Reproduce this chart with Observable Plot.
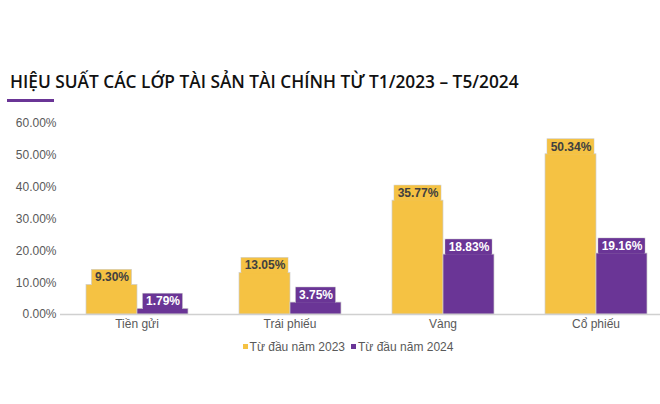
<!DOCTYPE html>
<html>
<head>
<meta charset="utf-8">
<script src="https://cdn.jsdelivr.net/npm/d3@7"></script>
<script src="https://cdn.jsdelivr.net/npm/@observablehq/plot@0.6"></script>
<style>
  html, body { margin: 0; padding: 0; background: #fff; width: 660px; height: 404px; overflow: hidden; }
  #wrap { position: relative; width: 660px; height: 404px; }
  #title { position: absolute; left: 10px; top: 70px; font-family: "Open Sans", sans-serif; font-weight: 600; font-size: 17.3px; color: #111; white-space: nowrap; }
  #bar { position: absolute; left: 7px; top: 99px; width: 47px; height: 3px; background: #6A3596; }
  #chart { position: absolute; left: 0; top: 100px; }
  #legend { position: absolute; top: 340px; left: 0; width: 660px; text-align: center; font-family: "Liberation Sans", Arial, sans-serif; font-size: 12px; color: #595959; padding-left: 36px; box-sizing: border-box; }
  #legend span.item { margin: 0 3px; white-space: nowrap; }
  #legend span.sw { display: inline-block; width: 5px; height: 5px; margin-right: 2px; vertical-align: 2px; }
</style>
</head>
<body>
<div id="wrap">
  <div id="title"></div>
  <div id="bar"></div>
  <div id="chart"></div>
  <div id="legend"></div>
</div>
<script>
const titleText = "HIỆU SUẤT CÁC LỚP TÀI SẢN TÀI CHÍNH TỪ T1/2023 – T5/2024";
const categories = ["Tiền gửi", "Trái phiếu", "Vàng", "Cổ phiếu"];
const series = ["Từ đầu năm 2023", "Từ đầu năm 2024"];
const values2023 = [9.30, 13.05, 35.77, 50.34];
const values2024 = [1.79, 3.75, 18.83, 19.16];
const yTicks = [0, 10, 20, 30, 40, 50, 60];
const colors = ["#F5C243", "#6A3596"];

document.getElementById("title").textContent = titleText;

const data = categories.flatMap((c, i) => [
  {cat: c, s: series[0], v: values2023[i]},
  {cat: c, s: series[1], v: values2024[i]}
]);
const label = d => d.v.toFixed(2) + "%";
const short = data.filter(d => label(d).length === 5);
const long = data.filter(d => label(d).length !== 5);
const edge = {stroke: "#cfcfcf", strokeWidth: 0.7};

const chart = Plot.plot({
  width: 660,
  height: 240,
  marginLeft: 60,
  marginRight: -12,
  marginTop: 23,
  marginBottom: 26,
  style: {fontFamily: "'Liberation Sans', Arial, sans-serif", fontSize: "12px", color: "#595959", background: "transparent"},
  fx: {domain: categories, padding: 0, label: null, tickSize: 0, tickPadding: 5, axis: "bottom"},
  x: {domain: series, axis: null, paddingInner: 0, paddingOuter: 0.5},
  y: {domain: [0, 60], ticks: yTicks, tickFormat: d => d.toFixed(2) + "%", tickSize: 0, tickPadding: 4, label: null},
  color: {domain: series, range: colors},
  marks: [
    Plot.barY(data, {fx: "cat", x: "s", y: "v", fill: "s", ...edge}),
    Plot.barY(short, {fx: "cat", x: "s", y1: "v", y2: "v", insetTop: -15, insetLeft: 5.5, insetRight: 5.5, fill: "s", ...edge}),
    Plot.barY(long, {fx: "cat", x: "s", y1: "v", y2: "v", insetTop: -15, insetLeft: 2, insetRight: 2, fill: "s", ...edge}),
    Plot.barY(short, {fx: "cat", x: "s", y1: "v", y2: "v", insetTop: -14.6, insetBottom: -0.8, insetLeft: 5.9, insetRight: 5.9, fill: "s"}),
    Plot.barY(long, {fx: "cat", x: "s", y1: "v", y2: "v", insetTop: -14.6, insetBottom: -0.8, insetLeft: 2.4, insetRight: 2.4, fill: "s"}),
    Plot.ruleY([0], {stroke: "#d0d0d0", strokeWidth: 1.5}),
    Plot.text(data.filter(d => d.s === series[0]), {fx: "cat", x: "s", y: "v", text: label, dy: -7.5, fill: "#404040", fontWeight: "bold", fontSize: 12}),
    Plot.text(data.filter(d => d.s === series[1]), {fx: "cat", x: "s", y: "v", text: label, dy: -7.5, fill: "white", fontWeight: "bold", fontSize: 12})
  ]
});
document.getElementById("chart").appendChild(chart);

const legend = document.getElementById("legend");
series.forEach((s, i) => {
  const item = document.createElement("span");
  item.className = "item";
  const sw = document.createElement("span");
  sw.className = "sw";
  sw.style.background = colors[i];
  item.appendChild(sw);
  item.appendChild(document.createTextNode(s));
  legend.appendChild(item);
});
</script>
</body>
</html>
